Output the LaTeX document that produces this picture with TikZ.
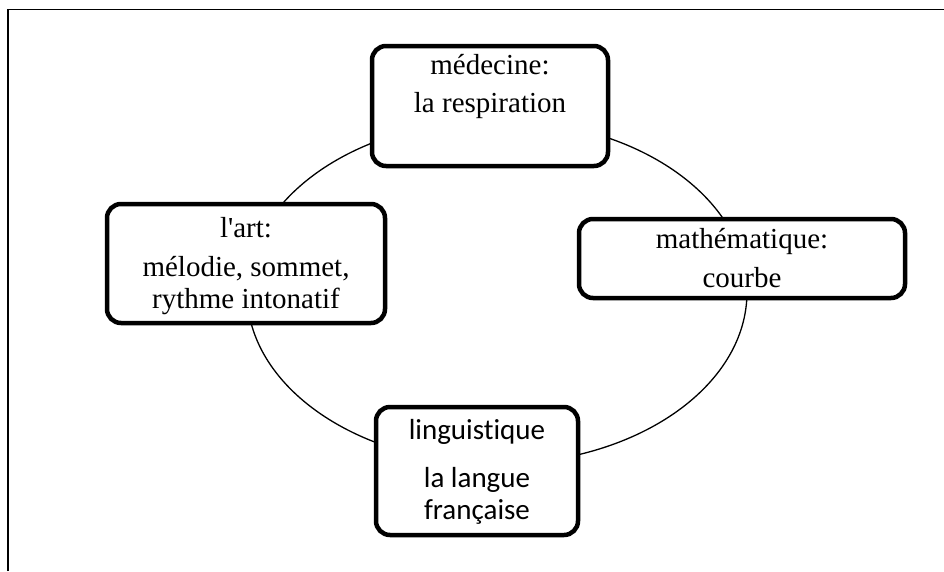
\documentclass[tikz,border=0pt]{standalone}
\usepackage{fontspec}
\setmainfont{Liberation Serif}
\newfontfamily\lingfont[Ligatures={NoCommon}]{Carlito}
\tikzset{
  box/.style={draw,line width=4.5pt,rounded corners=14pt,fill=white,inner sep=0pt},
  txt/.style={anchor=base,inner sep=0pt,font=\fontsize{29}{34}\selectfont},
  lingtxt/.style={txt,font=\lingfont\fontsize{29}{34}\selectfont},
}
\begin{document}
\begin{tikzpicture}[x=1pt,y=-1pt]
    \useasboundingbox (0,0) rectangle (944,571);
    \draw[line width=1.5pt] (8,571) -- (8,9.5) -- (944,9.5);
    \draw[line width=1.3pt] (497,292) ellipse [x radius=250, y radius=172];
    % boxes
    \node[box,minimum width=236pt,minimum height=120pt] (med) at (490,106) {};
    \node[box,minimum width=278pt,minimum height=119pt] (art) at (246,263.5) {};
    \node[box,minimum width=326pt,minimum height=79pt] (math) at (742,258.5) {};
    \node[box,minimum width=202pt,minimum height=128pt] (ling) at (477,471) {};
    % texts
    \node[txt] (med1) at (490,74) {médecine:};
    \node[txt] (med2) at (490,112) {la respiration};
    \node[txt] (art1) at (246,237) {l\textquotesingle art:};
    \node[txt] (art2) at (246,276) {mélodie, sommet,};
    \node[txt] (art3) at (246,308) {rythme intonatif};
    \node[txt] (math1) at (742,248) {mathématique:};
    \node[txt] (math2) at (742,287) {courbe};
    \node[lingtxt] (ling1) at (477,439) {linguistique};
    \node[lingtxt] (ling2) at (477,487) {la langue};
    \node[lingtxt] (ling3) at (477,519) {française};
\end{tikzpicture}
\end{document}
